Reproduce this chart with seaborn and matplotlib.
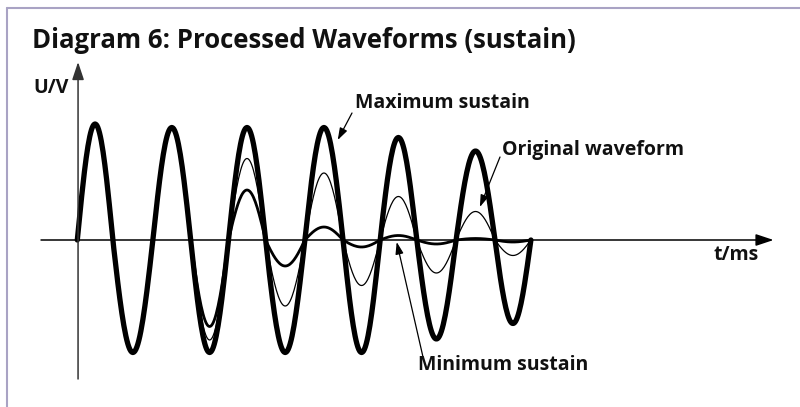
import numpy as np
import pandas as pd
import matplotlib
matplotlib.use("Agg")
import matplotlib.pyplot as plt
from matplotlib.lines import Line2D
import seaborn as sns

# zero crossings of the waveforms (ms)
zero_times = [0.0, 0.94, 2.0, 3.0, 4.0, 4.98, 6.02, 7.03, 8.01, 8.98, 10.02, 11.05, 12.0]

# signed peak value of each half cycle (V)
max_sustain = [1.16, -1.125, 1.125, -1.125, 1.125, -1.125, 1.125, -1.125, 1.025, -0.99, 0.89, -0.835]
original = [1.16, -1.125, 1.125, -1.00, 0.815, -0.66, 0.67, -0.455, 0.435, -0.33, 0.285, -0.155]
min_sustain = [1.16, -1.125, 1.125, -0.865, 0.50, -0.26, 0.13, -0.07, 0.045, -0.04, 0.015, -0.02]

W, H = 800, 407


def px(x, y):
    # pixel position (from top-left) -> figure fraction
    return x / W, 1 - y / H


def waveform(peaks, steps=40):
    # each half cycle drawn as a sine-shaped lobe through its read peak
    t_all, v_all = [], []
    for k, peak in enumerate(peaks):
        t0, t1 = zero_times[k], zero_times[k + 1]
        t = np.linspace(t0, t1, steps, endpoint=False)
        t_all.extend(t)
        v_all.extend(peak * np.sin(np.pi * (t - t0) / (t1 - t0)))
    t_all.append(zero_times[-1])
    v_all.append(0.0)
    return pd.DataFrame({"t": t_all, "U": v_all})


sns.set_theme(style="white")
plt.rcParams["font.family"] = ["Open Sans", "DejaVu Sans"]

fig = plt.figure(figsize=(W / 100, H / 100), dpi=100)
ax = fig.add_axes([0, 0, 1, 1])

# data units: 1 ms = 37.8 px, 1 V = 100 px, origin at (77.3, 240)
ax.set_xlim(-77.3 / 37.8, (W - 77.3) / 37.8)
ax.set_ylim((240 - H) / 100, 240 / 100)
ax.axis("off")

# axes with arrows
ax.annotate("", xy=(18.42, 0), xytext=(-0.96, 0),
            arrowprops=dict(arrowstyle="-|>,head_length=0.9,head_width=0.3",
                            color="black", lw=1.1, shrinkA=0, shrinkB=0))
ax.annotate("", xy=(0.02, 1.78), xytext=(0.02, -1.39),
            arrowprops=dict(arrowstyle="-|>,head_length=0.9,head_width=0.3",
                            color="#333333", lw=1.1, shrinkA=0, shrinkB=0))

# waveforms
sns.lineplot(data=waveform(min_sustain), x="t", y="U", ax=ax, color="black",
             linewidth=2.0, estimator=None, sort=False)
sns.lineplot(data=waveform(original), x="t", y="U", ax=ax, color="black",
             linewidth=0.9, estimator=None, sort=False)
sns.lineplot(data=waveform(max_sustain), x="t", y="U", ax=ax, color="black",
             linewidth=3.8, estimator=None, sort=False)

# text
bold = dict(fontweight="bold", color="#111111")
fig.text(*px(32, 48), "Diagram 6: Processed Waveforms (sustain)", fontsize=18.5,
         va="baseline", ha="left", **bold)
fig.text(*px(33, 88), "U/V", fontsize=14, va="center", ha="left", **bold)
fig.text(*px(713, 255), "t/ms", fontsize=14, va="center", ha="left", **bold)

labels = [
    ("Maximum sustain", (355, 103), (352, 113), (6.89, 1.0)),
    ("Original waveform", (502, 150), (500, 157), (10.65, 0.33)),
    ("Minimum sustain", (418, 365), (423, 357), (8.45, -0.02)),
]
for text, pos, start, target in labels:
    fig.text(*px(*pos), text, fontsize=14, va="center", ha="left", **bold)
    sx, sy = px(*start)
    ax.annotate("", xy=target, xycoords="data", xytext=(sx, sy),
                textcoords="figure fraction",
                arrowprops=dict(arrowstyle="-|>,head_length=0.6,head_width=0.2",
                                color="black", lw=0.9, shrinkA=0, shrinkB=0))

# frame lines at top and left
border = "#a9a3c4"
fig.add_artist(Line2D([px(7, 8)[0], 1], [px(7, 8)[1]] * 2, color=border, lw=1.5))
fig.add_artist(Line2D([px(7, 8)[0]] * 2, [0, px(7, 8)[1]], color=border, lw=1.5))

fig.savefig("out.png", dpi=100, facecolor="white")
